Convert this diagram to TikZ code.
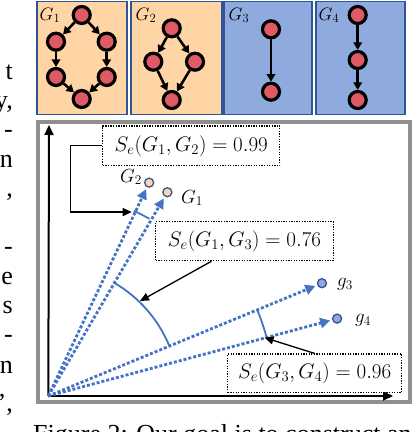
\RequirePackage{fix-cm}
\documentclass[tikz,border=0pt]{standalone}
\usepackage{fontspec}
\newfontfamily\timesfont{Liberation Serif}
\usetikzlibrary{arrows.meta,calc}
\definecolor{peach}{HTML}{FFD5A5}
\definecolor{lblue}{HTML}{8FAADC}
\definecolor{pborder}{HTML}{2F5597}
\definecolor{nred}{HTML}{E05A65}
\definecolor{vblue}{HTML}{4472C4}
\definecolor{fgray}{HTML}{8F8F8F}
\tikzset{
  panel/.style={draw=pborder,line width=1.6pt},
  gnode/.style={circle,draw=black,line width=3.2pt,fill=nred,minimum size=17pt,inner sep=0pt},
  garrow/.style={line width=2.6pt,-{Triangle[length=7.5pt,width=8.5pt]}},
  glabel/.style={inner sep=0pt,font=\fontsize{18}{21}\selectfont},
  axis/.style={line width=2pt,-{Triangle[length=10pt,width=9pt]}},
  vdot/.style={circle,draw=pborder,line width=1.3pt,minimum size=9pt,inner sep=0pt},
  vec/.style={vblue,line width=2.8pt,dash pattern=on 3pt off 2pt,shorten >=2pt,-{Triangle[length=10pt,width=10pt]}},
  arcst/.style={vblue,line width=1.8pt},
  sbox/.style={draw=black,line width=1.2pt,dash pattern=on 1.3pt off 1.3pt,fill=white,inner sep=0pt,font=\fontsize{21}{25}\selectfont},
  ptr/.style={line width=1.3pt,-{Triangle[length=9pt,width=8pt]}},
  vlab/.style={inner sep=0pt,font=\fontsize{19}{22}\selectfont},
  frag/.style={inner sep=0pt,anchor=base east,font=\timesfont\fontsize{26}{30}\selectfont},
}
\begin{document}
\begin{tikzpicture}[x=1pt,y=1pt]
\clip (0,0) rectangle (416,432);
\fill[white] (0,0) rectangle (416,432);

% top panels
\draw[panel,fill=peach] (36.8,430.5) rectangle (127,317.5);
\draw[panel,fill=peach] (131,430.5) rectangle (222,317.5);
\draw[panel,fill=lblue] (224,430.5) rectangle (312,317.5);
\draw[panel,fill=lblue] (316,430.5) rectangle (405,317.5);

\node[glabel] (L1) at (50,416.5) {$G_1$};
\node[glabel] (L2) at (146,416.5) {$G_2$};
\node[glabel] (L3) at (239,416.5) {$G_3$};
\node[glabel] (L4) at (329,416.5) {$G_4$};

% G1
\node[gnode] (a1) at (81.7,417) {};
\node[gnode] (b1n) at (56,390.3) {};
\node[gnode] (c1) at (106.7,390.3) {};
\node[gnode] (d1) at (56,355) {};
\node[gnode] (e1) at (106.7,355) {};
\node[gnode] (f1) at (81.7,333) {};
\draw[garrow] (a1) -- (b1n);
\draw[garrow] (a1) -- (c1);
\draw[garrow] (b1n) -- (d1);
\draw[garrow] (c1) -- (e1);
\draw[garrow] (d1) -- (f1);
\draw[garrow] (e1) -- (f1);

% G2
\node[gnode] (a2) at (171.7,403.7) {};
\node[gnode] (b2n) at (153.3,370.3) {};
\node[gnode] (c2) at (195,370.3) {};
\node[gnode] (d2) at (171.7,332) {};
\draw[garrow] (a2) -- (b2n);
\draw[garrow] (a2) -- (c2);
\draw[garrow] (b2n) -- (d2);
\draw[garrow] (c2) -- (d2);

% G3
\node[gnode] (a3) at (271,402.7) {};
\node[gnode] (b3n) at (271,340.3) {};
\draw[garrow] (a3) -- (b3n);

% G4
\node[gnode] (a4) at (357.7,417) {};
\node[gnode] (b4n) at (357.7,372) {};
\node[gnode] (c4) at (357.7,332) {};
\draw[garrow] (a4) -- (b4n);
\draw[garrow] (b4n) -- (c4);

% bottom frame
\draw[fgray,line width=4pt] (38,30) rectangle (410,310);

\coordinate (O) at (48.3,36);
\coordinate (ytop) at (49,307);
\coordinate (xend) at (393,36);
\draw[axis] (O) -- (ytop);
\draw[axis] (O) -- (xend);

% vectors
\node[vdot,fill=peach] (pG2) at ($(O)+(64.7:236)$) {};
\node[vdot,fill=peach] (pG1) at ($(O)+(59.7:236)$) {};
\node[vdot,fill=lblue] (pg3) at ($(O)+(22.4:296)$) {};
\node[vdot,fill=lblue] (pg4) at ($(O)+(15:299)$) {};
\draw[vec] (O) -- (pG2);
\draw[vec] (O) -- (pG1);
\draw[vec] (O) -- (pg3);
\draw[vec] (O) -- (pg4);

\node[vlab] (lG2) at (131,255) {$G_2$};
\node[vlab] (lG1) at (192,234) {$G_1$};
\node[vlab] (lg3) at (345,148) {$g_3$};
\node[vlab] (lg4) at (363,111.5) {$g_4$};

% arcs
\draw[arcst] ($(O)+(65.2:204)$) arc[start angle=65.2,end angle=60.3,radius=204];
\draw[arcst] ($(O)+(59.7:131)$) arc[start angle=59.7,end angle=22.4,radius=131];
\draw[arcst] ($(O)+(22.4:226)$) arc[start angle=22.4,end angle=15,radius=226];

% boxes
\node[sbox,minimum width=177pt,minimum height=39.7pt] (bx1) at (191.3,286.2) {$S_e(G_1,G_2)=0.99$};
\node[sbox,minimum width=177.6pt,minimum height=39pt] (bx2) at (244.5,190.8) {$S_e(G_1,G_3)=0.76$};
\node[sbox,minimum width=174pt,minimum height=38.3pt] (bx3) at (314.7,58.8) {$S_e(G_3,G_4)=0.96$};

\coordinate (t1) at ($(O)+(65.6:202)$);
\coordinate (t2) at ($(O)+(46:132)$);
\coordinate (t3) at ($(O)+(15.1:224)$);
\coordinate (s2) at ($(bx2.south west)!0.315!(bx2.south east)$);
\draw[ptr] (bx1.west) -- ++(-31.7,0) |- (t1);
\draw[ptr] (s2) -- (t2);
\draw[ptr] (bx3.north) -- (t3);

% surrounding page text
\node[frag] (f01) at (13,352) {t};
\node[frag] (f02) at (13,323) {y,};
\node[frag] (f03) at (13,294) {-};
\node[frag] (f04) at (13,264) {n};
\node[frag] (f05) at (13,235) {,};
\node[frag] (f06) at (13,177) {-};
\node[frag] (f07) at (13,147) {e};
\node[frag] (f08) at (13,118) {s};
\node[frag] (f09) at (13,89) {-};
\node[frag] (f10) at (13,59) {n};
\node[frag] (f11) at (13,20) {’,};
\node[inner sep=0pt,anchor=base west,font=\timesfont\fontsize{26}{30}\selectfont] (cap) at (33,-10) {Figure 2: Our goal is to construct an};
\end{tikzpicture}
\end{document}
